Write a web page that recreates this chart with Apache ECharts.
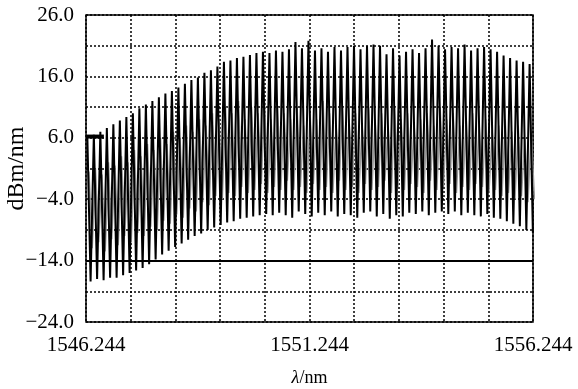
<!DOCTYPE html>
<html>
<head>
<meta charset="utf-8">
<script src="https://cdn.jsdelivr.net/npm/echarts@6/dist/echarts.min.js"></script>
<style>
  html, body { margin: 0; padding: 0; background: #fff; }
  #chart { width: 578px; height: 389px; }
</style>
</head>
<body>
<div id="chart"></div>
<script>
// 起始波长 / 峰间距 (nm)
var startWl = 1546.244;
var peakStart = 0.03;
var peakSpacing = 0.1455;
var yOffset = 24; // 纵轴从 -24 开始

// 黑色谱线: 每个峰的峰值和峰后谷值 (dBm/nm)
var peakHigh = [
  6.2, 6.5, 7.0, 7.6, 8.2, 8.8, 9.4, 10.0, 10.8, 11.4,
  12.0, 12.6, 13.2, 13.6, 14.2, 14.8, 15.4, 15.8, 16.6, 17.0,
  17.6, 18.4, 18.6, 19.0, 19.2, 19.5, 19.8, 20.0, 19.8, 20.2,
  20.0, 20.4, 21.6, 20.6, 21.8, 20.2, 20.6, 20.0, 20.8, 20.2,
  20.8, 21.0, 20.4, 21.0, 21.2, 21.0, 19.6, 20.6, 19.4, 20.0,
  20.4, 19.8, 20.6, 22.0, 21.0, 20.4, 20.8, 20.6, 21.2, 20.2,
  20.6, 20.8, 20.4, 20.0, 19.4, 19.0, 18.6, 18.4, 18.0
];
var peakLow = [
  -17.4, -17.0, -17.2, -16.8, -16.8, -16.4, -16.0, -15.6, -15.2, -14.6,
  -13.8, -13.0, -12.4, -11.8, -11.2, -10.6, -10.0, -9.6, -9.0, -8.6,
  -8.2, -7.8, -7.6, -7.2, -7.0, -6.8, -6.6, -6.4, -6.6, -6.2,
  -6.6, -7.0, -6.0, -6.4, -6.8, -6.2, -6.6, -6.0, -6.8, -6.4,
  -6.6, -7.0, -6.2, -6.0, -6.8, -6.4, -7.2, -6.6, -6.8, -6.2,
  -6.4, -6.0, -6.6, -6.2, -6.0, -6.4, -6.0, -6.6, -6.2, -6.6,
  -6.8, -6.4, -7.0, -7.2, -7.6, -8.0, -8.4, -9.0, -9.4
];
// 灰色谱线
var grayHigh = [
  0.5, 1.0, 0.0, 2.0, 1.5, 3.0, 2.0, 4.0, 3.0, 5.0,
  4.0, 6.0, 5.0, 7.0, 6.0, 8.0, 7.0, 9.0, 8.0, 10.0,
  9.0, 11.0, 10.0, 12.0, 9.0, 11.0, 10.0, 12.0, 9.0, 11.0,
  10.0, 9.0, 11.0, 8.0, 10.0, 9.0, 12.0, 10.0, 8.0, 11.0,
  9.0, 10.0, 8.0, 11.0, 9.0, 10.0, 8.0, 11.0, 9.0, 10.0,
  8.0, 9.0, 10.0, 8.0, 11.0, 9.0, 10.0, 8.0, 9.0, 10.0,
  8.0, 9.0, 7.0, 8.0, 9.0, 7.0, 8.0, 6.0, 7.0
];
var grayLow = [
  -12.0, -11.0, -12.5, -10.5, -11.5, -10.0, -11.0, -9.5, -10.0, -8.5,
  -9.0, -7.5, -8.0, -6.5, -7.0, -5.5, -6.0, -4.5, -5.0, -3.5,
  -4.0, -3.0, -3.5, -2.0, -3.0, -2.5, -1.5, -3.0, -2.0, -2.5,
  -1.0, -2.5, -2.0, -3.0, -1.5, -2.5, -2.0, -3.0, -1.0, -2.5,
  -2.0, -3.0, -1.5, -2.5, -2.0, -1.0, -3.0, -2.0, -2.5, -1.5,
  -2.0, -3.0, -1.0, -2.5, -2.0, -1.5, -3.0, -2.0, -2.5, -1.5,
  -2.0, -3.0, -2.5, -3.5, -3.0, -4.0, -3.5, -4.5, -4.0
];
// 左上角短线 (约 6 dBm/nm)
var markerLevel = 6.2;
var markerSpan = [0, 0.4];
// 参考水平线
var refLevel = -14;

var xLabels = [1546.244, 1551.244, 1556.244];

var font = "'Times New Roman', 'Liberation Serif', serif";

function fmtY(v) {
  var s = Math.abs(v).toFixed(1);
  return v < 0 ? '\u2212' + s : s;
}

var blackData = [];
var grayData = [];
peakHigh.forEach(function (h, k) {
  var x0 = peakStart + k * peakSpacing;
  blackData.push([x0, h + yOffset]);
  blackData.push([x0 + peakSpacing / 2, peakLow[k] + yOffset]);
  grayData.push([x0 + peakSpacing * 0.25, grayHigh[k] + yOffset]);
  grayData.push([x0 + peakSpacing * 0.75, grayLow[k] + yOffset]);
});

var chart = echarts.init(document.getElementById('chart'));
chart.setOption({
  animation: false,
  backgroundColor: '#fff',
  grid: {
    left: 86, right: 45, top: 15, bottom: 67,
    outerBoundsMode: 'none',
    containLabel: false,
    show: true, borderColor: '#000', borderWidth: 1.5
  },
  xAxis: {
    type: 'value',
    min: 0, max: 10, interval: 1,
    name: '{i|λ}{n|/nm}',
    nameLocation: 'middle',
    nameGap: 47,
    nameMoveOverlap: false,
    nameTextStyle: {
      rich: {
        i: { fontFamily: font, fontSize: 18, fontStyle: 'italic', color: '#000' },
        n: { fontFamily: font, fontSize: 18, color: '#000' }
      }
    },
    axisLine: { show: false },
    axisTick: { show: false },
    axisLabel: {
      margin: 13,
      fontFamily: font, fontSize: 21, color: '#000',
      formatter: function (v) {
        var wl = +(startWl + v).toFixed(3);
        return xLabels.indexOf(wl) >= 0 ? wl.toFixed(3) : '';
      }
    },
    splitLine: { show: true, lineStyle: { color: '#000', type: [2, 2], width: 1.5 } }
  },
  yAxis: {
    type: 'value',
    min: 0, max: 50, interval: 5,
    name: 'dBm/nm',
    nameLocation: 'middle',
    nameGap: 57,
    nameMoveOverlap: false,
    nameTextStyle: { fontFamily: font, fontSize: 24, color: '#000' },
    axisLine: { show: false },
    axisTick: { show: false },
    axisLabel: {
      margin: 12,
      fontFamily: font, fontSize: 21, color: '#000',
      formatter: function (v) {
        return v % 10 === 0 ? fmtY(v - yOffset) : '';
      }
    },
    splitLine: { show: true, lineStyle: { color: '#000', type: [2, 2], width: 1.5 } }
  },
  series: [
    {
      type: 'line',
      data: grayData,
      symbol: 'none',
      lineStyle: { color: '#9a9a9a', width: 1.5 },
      z: 2
    },
    {
      type: 'line',
      data: blackData,
      symbol: 'none',
      lineStyle: { color: '#000', width: 2 },
      z: 3,
      markLine: {
        silent: true,
        symbol: 'none',
        label: { show: false },
        lineStyle: { color: '#000', type: 'solid', width: 2 },
        data: [{ yAxis: refLevel + yOffset }]
      }
    },
    {
      type: 'line',
      data: [[markerSpan[0], markerLevel + yOffset], [markerSpan[1], markerLevel + yOffset]],
      symbol: 'none',
      lineStyle: { color: '#000', width: 4 },
      z: 4
    }
  ]
});
</script>
</body>
</html>
